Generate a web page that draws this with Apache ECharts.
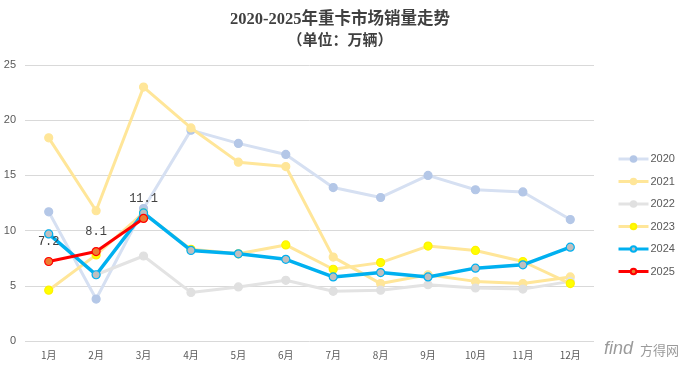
<!DOCTYPE html>
<html>
<head>
<meta charset="utf-8">
<script src="https://cdn.jsdelivr.net/npm/echarts@6/dist/echarts.min.js"></script>
<style>html,body{margin:0;padding:0;background:#fff}#c{width:680px;height:367px}</style>
</head>
<body>
<div id="c"></div>
<script>
const months = ['1月','2月','3月','4月','5月','6月','7月','8月','9月','10月','11月','12月'];
const s2020 = [11.7, 3.8, 12.0, 19.1, 17.9, 16.9, 13.9, 13.0, 15.0, 13.7, 13.5, 11.0];
const s2021 = [18.4, 11.8, 23.0, 19.3, 16.2, 15.8, 7.6, 5.2, 6.0, 5.4, 5.2, 5.8];
const s2022 = [9.7, 6.0, 7.7, 4.4, 4.9, 5.5, 4.5, 4.6, 5.1, 4.8, 4.7, 5.4];
const s2023 = [4.6, 7.8, 11.6, 8.3, 7.9, 8.7, 6.5, 7.1, 8.6, 8.2, 7.2, 5.2];
const s2024 = [9.7, 6.0, 11.6, 8.2, 7.9, 7.4, 5.8, 6.2, 5.8, 6.6, 6.9, 8.5];
const s2025 = [7.2, 8.1, 11.1];
const yTicks = [0, 5, 10, 15, 20, 25];

const chart = echarts.init(document.getElementById('c'));
function mk(name, data, lineColor, markFill, markBorder, width, z) {
  return {
    name, type: 'line', data, z,
    symbol: 'circle', symbolSize: 8,
    lineStyle: { color: lineColor, width: width },
    itemStyle: { color: markFill, borderColor: markBorder, borderWidth: 1.2 },
    emphasis: { disabled: true }
  };
}
const series = [
  mk('2020', s2020, '#D6E0F2', '#B4C7E7', '#B4C7E7', 3, 2),
  mk('2021', s2021, '#FFE699', '#FFE699', '#FFE699', 3, 3),
  mk('2022', s2022, '#E3E3E3', '#E0E0E0', '#E0E0E0', 3, 4),
  mk('2023', s2023, '#FFE699', '#FFFF00', '#FFF200', 3, 5),
  mk('2024', s2024, '#00B0F0', '#BFBFBF', '#00B0F0', 3.5, 6),
  mk('2025', s2025, '#FF0000', '#ED7D31', '#FF0000', 3, 7)
];
series[5].label = {
  show: true, position: 'top', distance: 9,
  fontFamily: 'Liberation Mono, DejaVu Sans Mono, monospace', fontSize: 12, color: '#404040',
  formatter: p => p.value.toFixed(1)
};

chart.setOption({
  animation: false,
  backgroundColor: '#fff',
  title: {
    text: '2020-2025年重卡市场销量走势',
    subtext: '（单位：万辆）',
    left: 'center', top: 6, itemGap: 6,
    textStyle: { fontFamily: 'Liberation Serif, Noto Sans CJK SC', fontSize: 16.5, fontWeight: 'bold', color: '#404040' },
    subtextStyle: { fontFamily: 'Liberation Serif, Noto Sans CJK SC', fontSize: 15, fontWeight: 'bold', color: '#404040' }
  },
  legend: {
    orient: 'vertical', left: 612, top: 147, itemGap: 8.5,
    itemWidth: 30, itemHeight: 7,
    lineStyle: { width: 3 },
    textStyle: { color: '#595959', fontSize: 11, fontFamily: 'Liberation Sans, Arial', padding: [0,0,0,-3], height: 14, lineHeight: 14 },
    data: ['2020','2021','2022','2023','2024','2025']
  },
  grid: { left: 25, right: 86, top: 65, bottom: 26, containLabel: false },
  xAxis: {
    type: 'category', data: months, boundaryGap: true,
    axisLine: { show: false }, axisTick: { show: false },
    axisLabel: { color: '#595959', fontSize: 10, margin: 9, fontFamily: 'Noto Sans CJK SC' }
  },
  yAxis: {
    type: 'value', min: yTicks[0], max: yTicks[yTicks.length-1], interval: 5,
    axisLine: { show: false }, axisTick: { show: false },
    axisLabel: { color: '#595959', fontSize: 11, margin: 9, fontFamily: 'Liberation Sans, Arial' },
    splitLine: { lineStyle: { color: '#D9D9D9', width: 1 } }
  },
  graphic: [
    { type: 'text', left: 604, top: 340, style: { text: 'find', fill: '#9a9a9a', font: 'italic 18px Liberation Sans' } },
    { type: 'text', left: 640, top: 344, style: { text: '方得网', fill: '#9a9a9a', font: '13px Noto Sans CJK SC' } }
  ],
  series
});
</script>
</body>
</html>
